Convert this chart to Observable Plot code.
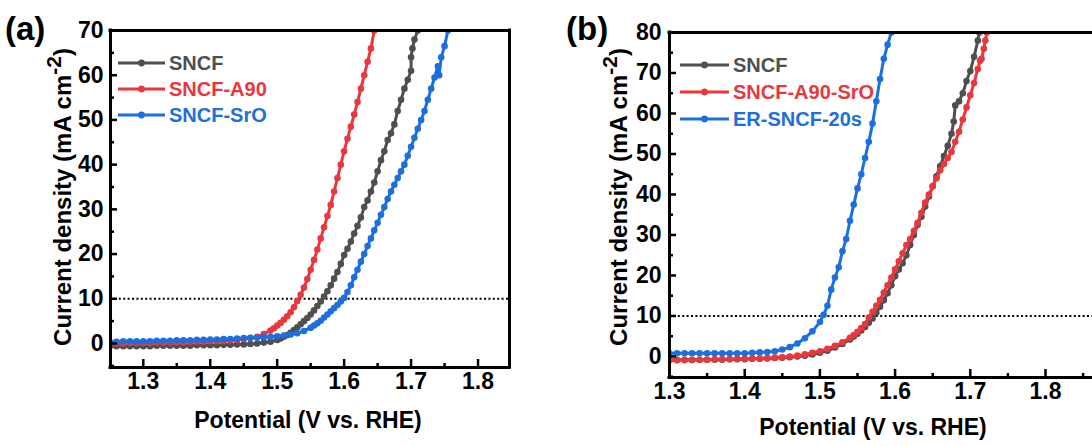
<!DOCTYPE html>
<html><head><meta charset="utf-8">
<script src="https://cdn.jsdelivr.net/npm/d3@7"></script>
<script src="https://cdn.jsdelivr.net/npm/@observablehq/plot@0.6"></script>
<style>
body{margin:0;background:#fff;}
#wrap{position:relative;width:1092px;height:446px;overflow:hidden;}
.panel{position:absolute;top:0;}
</style>
</head><body><div id="wrap"></div>
<script>
// ---------- Panel (a) data ----------
const aSNCF_V = [1.25,1.26,1.27,1.28,1.29,1.30,1.31,1.32,1.33,1.34,1.35,1.36,1.37,1.38,1.39,1.40,1.41,1.42,1.43,1.44,1.45,1.46,1.47,1.48,1.49,1.50,1.505,1.51,1.515,1.52,1.525,1.53,1.535,1.54,1.545,1.55,1.555,1.56,1.565,1.57,1.575,1.58,1.585,1.59,1.595,1.60,1.605,1.61,1.615,1.62,1.625,1.63,1.635,1.64,1.645,1.65,1.655,1.66,1.665,1.67,1.675,1.68,1.685,1.69,1.695,1.70,1.70,1.702,1.705,1.71];
const aSNCF_J = [-0.6,-0.6,-0.6,-0.6,-0.6,-0.6,-0.6,-0.5,-0.5,-0.5,-0.5,-0.5,-0.5,-0.4,-0.4,-0.4,-0.4,-0.3,-0.3,-0.2,-0.2,-0.1,0.0,0.2,0.4,0.8,1.1,1.5,1.9,2.4,3.0,3.6,4.3,5.0,5.7,6.5,7.4,8.4,9.4,10.5,11.7,13.0,14.5,16.0,17.8,19.8,21.2,22.8,24.6,26.3,28.2,30.5,32.0,34.0,36.0,38.5,41.0,43.0,45.5,47.0,49.0,52.0,54.5,57.0,59.0,61.0,64.0,66.0,68.0,70.0];

const aA90_V = [1.25,1.26,1.27,1.28,1.29,1.30,1.31,1.32,1.33,1.34,1.35,1.36,1.37,1.38,1.39,1.40,1.41,1.42,1.43,1.44,1.45,1.46,1.47,1.48,1.49,1.495,1.50,1.505,1.51,1.515,1.52,1.525,1.53,1.535,1.54,1.545,1.55,1.555,1.56,1.565,1.57,1.575,1.58,1.585,1.59,1.595,1.60,1.605,1.61,1.615,1.62,1.625,1.63,1.635,1.64,1.645];
const aA90_J = [0.0,0.0,0.0,0.1,0.1,0.1,0.1,0.2,0.2,0.2,0.3,0.3,0.3,0.4,0.4,0.5,0.5,0.6,0.7,0.8,1.0,1.2,1.5,2.1,2.9,3.4,4.0,4.6,5.3,6.1,7.0,8.1,9.5,10.9,12.5,14.4,16.5,18.7,21.0,23.5,26.0,28.5,31.0,34.0,37.0,40.0,43.0,45.8,48.5,51.2,54.0,57.0,60.0,63.0,66.0,70.0];

const aSrO_V = [1.25,1.26,1.27,1.28,1.29,1.30,1.31,1.32,1.33,1.34,1.35,1.36,1.37,1.38,1.39,1.40,1.41,1.42,1.43,1.44,1.45,1.46,1.47,1.48,1.49,1.50,1.51,1.52,1.53,1.54,1.55,1.555,1.56,1.565,1.57,1.575,1.58,1.585,1.59,1.595,1.60,1.605,1.61,1.615,1.62,1.625,1.63,1.635,1.64,1.645,1.65,1.655,1.66,1.665,1.67,1.675,1.68,1.685,1.69,1.695,1.70,1.705,1.71,1.715,1.72,1.725,1.73,1.735,1.74,1.742,1.745,1.75,1.755];
const aSrO_J = [0.4,0.4,0.5,0.5,0.5,0.5,0.5,0.6,0.6,0.6,0.7,0.7,0.7,0.8,0.8,0.9,0.9,1.0,1.0,1.1,1.2,1.3,1.3,1.4,1.5,1.6,1.8,2.0,2.3,2.8,3.5,4.0,4.5,5.1,5.8,6.5,7.2,7.9,8.6,9.4,10.2,11.5,13.0,14.8,16.5,18.3,20.0,21.8,23.5,25.3,27.0,28.8,30.5,32.3,34.0,35.5,37.0,38.5,40.0,42.0,44.0,46.0,48.0,50.0,52.0,54.5,57.0,59.5,62.0,60.0,64.0,66.5,70.0];

// ---------- Panel (b) data ----------
const bSNCF_V = [1.30,1.31,1.32,1.33,1.34,1.35,1.36,1.37,1.38,1.39,1.40,1.41,1.42,1.43,1.44,1.45,1.46,1.47,1.48,1.49,1.50,1.51,1.52,1.53,1.54,1.545,1.55,1.555,1.56,1.565,1.57,1.575,1.58,1.585,1.59,1.595,1.60,1.605,1.61,1.615,1.62,1.625,1.63,1.635,1.64,1.645,1.65,1.655,1.66,1.665,1.67,1.675,1.678,1.68,1.685,1.69,1.695,1.70,1.705,1.71,1.712];
const bSNCF_J = [-0.9,-0.9,-0.9,-0.9,-0.8,-0.8,-0.8,-0.8,-0.7,-0.7,-0.7,-0.6,-0.6,-0.5,-0.4,-0.3,-0.2,0.0,0.2,0.5,0.9,1.4,2.2,3.1,4.2,4.9,5.6,6.4,7.3,8.3,9.4,10.8,12.3,13.9,15.6,17.6,19.8,21.5,23.0,25.0,27.5,30.0,32.5,34.5,37.0,39.5,42.0,44.5,47.0,49.5,52.0,55.0,58.0,62.0,63.0,65.0,68.0,70.5,74.0,78.0,80.0];

const bA90SrO_V = [1.30,1.31,1.32,1.33,1.34,1.35,1.36,1.37,1.38,1.39,1.40,1.41,1.42,1.43,1.44,1.45,1.46,1.47,1.48,1.49,1.50,1.51,1.52,1.53,1.54,1.545,1.55,1.555,1.56,1.565,1.57,1.575,1.58,1.585,1.59,1.595,1.60,1.605,1.61,1.615,1.62,1.625,1.63,1.635,1.64,1.645,1.65,1.655,1.66,1.665,1.67,1.675,1.68,1.685,1.69,1.695,1.70,1.705,1.71,1.713,1.715,1.718,1.72,1.722];
const bA90SrO_J = [-0.9,-0.9,-0.8,-0.8,-0.8,-0.8,-0.7,-0.7,-0.7,-0.6,-0.6,-0.5,-0.5,-0.4,-0.3,-0.2,0.0,0.2,0.5,0.9,1.3,1.9,2.6,3.5,4.6,5.3,6.1,7.0,8.0,9.6,11.0,12.5,14.0,15.8,17.6,19.5,21.5,23.5,25.5,27.5,29.0,31.0,33.0,35.5,38.0,40.0,42.0,44.0,46.0,47.5,49.0,50.5,53.0,55.5,58.5,61.5,64.5,67.5,71.0,73.0,73.5,76.0,78.0,80.0];

const bER_V = [1.30,1.31,1.32,1.33,1.34,1.35,1.36,1.37,1.38,1.39,1.40,1.41,1.42,1.43,1.44,1.45,1.46,1.47,1.48,1.49,1.50,1.505,1.51,1.515,1.52,1.525,1.53,1.535,1.54,1.545,1.55,1.555,1.56,1.565,1.57,1.575,1.58,1.585,1.59,1.595];
const bER_J = [0.8,0.8,0.8,0.8,0.8,0.8,0.8,0.8,0.8,0.8,0.8,0.9,1.0,1.1,1.3,1.7,2.3,3.2,4.5,6.2,8.5,10.3,12.5,16.5,19.5,22.0,26.0,29.0,33.5,37.5,41.5,45.0,49.0,53.0,57.5,63.0,68.5,73.5,77.0,80.0];

// ---------- labels / ticks ----------
const xMajorTicks = [1.3,1.4,1.5,1.6,1.7,1.8];
const xMinorTicksA = [1.35,1.45,1.55,1.65,1.75];
const xMinorTicksB = [1.35,1.45,1.55,1.65,1.75,1.85];
const yMajorTicksA = [0,10,20,30,40,50,60,70];
const yMinorTicksA = [-5,5,15,25,35,45,55,65];
const yMajorTicksB = [0,10,20,30,40,50,60,70,80];
const yMinorTicksB = [-5,5,15,25,35,45,55,65,75];
const namesA = ["SNCF","SNCF-A90","SNCF-SrO"];
const namesB = ["SNCF","SNCF-A90-SrO","ER-SNCF-20s"];
const colors = ["#4f4f4f","#e8383d","#1d6fe0"];
const xTitle = "Potential (V vs. RHE)";
const yTitleMain = "Current density (mA cm";
const refLine = [10];

const FONT = '"Liberation Sans", Arial, Helvetica, sans-serif';

function zip(V, J){ return V.map((v,i)=>({V:v, J:J[i]})); }

function panel(cfg){
  const W = 546, H = 446;
  const fw = W - cfg.mL - cfg.mR, fh = H - cfg.mT - cfg.mB;
  const marks = [
    Plot.ruleY(refLine, {y: d=>d, stroke:"#000", strokeWidth:2, strokeDasharray:"2,2.4"})
  ];
  cfg.series.forEach((s, i) => {
    const data = zip(s.V, s.J);
    marks.push(Plot.line(data, {x:"V", y:"J", stroke:colors[i], strokeWidth:3, clip:true}));
    marks.push(Plot.dot(data, {x:"V", y:"J", fill:colors[i], r:3.3, clip:true}));
  });
  marks.push(
    Plot.ruleX(cfg.xMajor, {x:d=>d, stroke:"#000", strokeWidth:2.5, insetTop: fh-8}),
    Plot.ruleX(cfg.xMinor, {x:d=>d, stroke:"#000", strokeWidth:2.5, insetTop: fh-4}),
    Plot.ruleY(cfg.yMajor, {y:d=>d, stroke:"#000", strokeWidth:2.5, insetRight: fw-7}),
    Plot.ruleY(cfg.yMinor, {y:d=>d, stroke:"#000", strokeWidth:2.5, insetRight: fw-4}),
    Plot.axisX(cfg.xMajor, {tickSize:0, tickPadding:5, fontSize:23, fontWeight:"bold", label:null, tickFormat:d=>d.toFixed(1)}),
    Plot.axisY(cfg.yMajor, {tickSize:0, tickPadding:cfg.yPad, fontSize:23, fontWeight:"bold", label:null}),
    Plot.ruleY([cfg.yDomain[0], cfg.yDomain[1]], {y:d=>d, stroke:"#000", strokeWidth:3, strokeLinecap:"square"}),
    Plot.ruleX(cfg.frameX, {x:d=>d, stroke:"#000", strokeWidth:3, strokeLinecap:"square"})
  );
  const svg = Plot.plot({
    width: W, height: H,
    marginLeft: cfg.mL, marginRight: cfg.mR, marginTop: cfg.mT, marginBottom: cfg.mB,
    x: {domain: cfg.xDomain, axis: null},
    y: {domain: cfg.yDomain, axis: null},
    style: {fontFamily: FONT, color:"#000", background:"transparent", overflow:"visible"},
    marks
  });
  const s = d3.select(svg);
  const g = s.append("g").attr("font-family", FONT).attr("font-weight","bold").attr("fill","#000").attr("text-anchor","start");
  // x title
  g.append("text").attr("x", cfg.xTitleX).attr("y", cfg.xTitleY).attr("text-anchor","middle")
    .attr("font-size", 23).text(xTitle);
  // y title with superscript
  const yt = g.append("text").attr("transform", `translate(${cfg.yTitleX},${cfg.yTitleY}) rotate(-90)`)
    .attr("text-anchor","middle").attr("font-size",24);
  yt.append("tspan").text(yTitleMain);
  yt.append("tspan").attr("dy",-10).attr("font-size",21).text("-2");
  yt.append("tspan").attr("dy",10).text(")");
  // panel label
  g.append("text").attr("x", cfg.labX).attr("y", 40).attr("text-anchor","start").attr("font-size", 33).text(cfg.label);
  // legend
  cfg.names.forEach((n,i)=>{
    const y = cfg.legY[i];
    g.append("line").attr("x1",cfg.legX1).attr("x2",cfg.legX2).attr("y1",y).attr("y2",y)
      .attr("stroke",colors[i]).attr("stroke-width",3);
    g.append("circle").attr("cx",(cfg.legX1+cfg.legX2)/2).attr("cy",y).attr("r",3.4).attr("fill",colors[i]);
    g.append("text").attr("x",cfg.legTX).attr("y",y+6.5).attr("text-anchor","start").attr("font-size",20).attr("fill",colors[i]).text(n);
  });
  const div = document.createElement("div");
  div.className = "panel";
  div.style.left = cfg.left + "px";
  div.appendChild(svg);
  document.getElementById("wrap").appendChild(div);
}

panel({
  left:0, mL:110, mR:37, mT:30, mB:79,
  xDomain:[1.251,1.847], yDomain:[-5.37,70],
  xMajor:xMajorTicks, xMinor:xMinorTicksA, yMajor:yMajorTicksA, yMinor:yMinorTicksA,
  frameX:[1.251,1.847], yPad:7,
  series:[{V:aSNCF_V,J:aSNCF_J},{V:aA90_V,J:aA90_J},{V:aSrO_V,J:aSrO_J}],
  names:namesA, legX1:118, legX2:165, legTX:169, legY:[63,89,115],
  xTitleX:308, xTitleY:428, yTitleX:71, yTitleY:197, labX:5, label:"(a)"
});
panel({
  left:546, mL:123, mR:0, mT:32, mB:69,
  xDomain:[1.3,1.8625], yDomain:[-5.2,80],
  xMajor:xMajorTicks, xMinor:xMinorTicksB, yMajor:yMajorTicksB, yMinor:yMinorTicksB,
  frameX:[1.3], yPad:8,
  series:[{V:bSNCF_V,J:bSNCF_J},{V:bA90SrO_V,J:bA90SrO_J},{V:bER_V,J:bER_J}],
  names:namesB, legX1:134, legX2:183, legTX:187, legY:[65,92,119],
  xTitleX:327, xTitleY:435, yTitleX:81, yTitleY:197, labX:20, label:"(b)"
});
</script></body></html>
